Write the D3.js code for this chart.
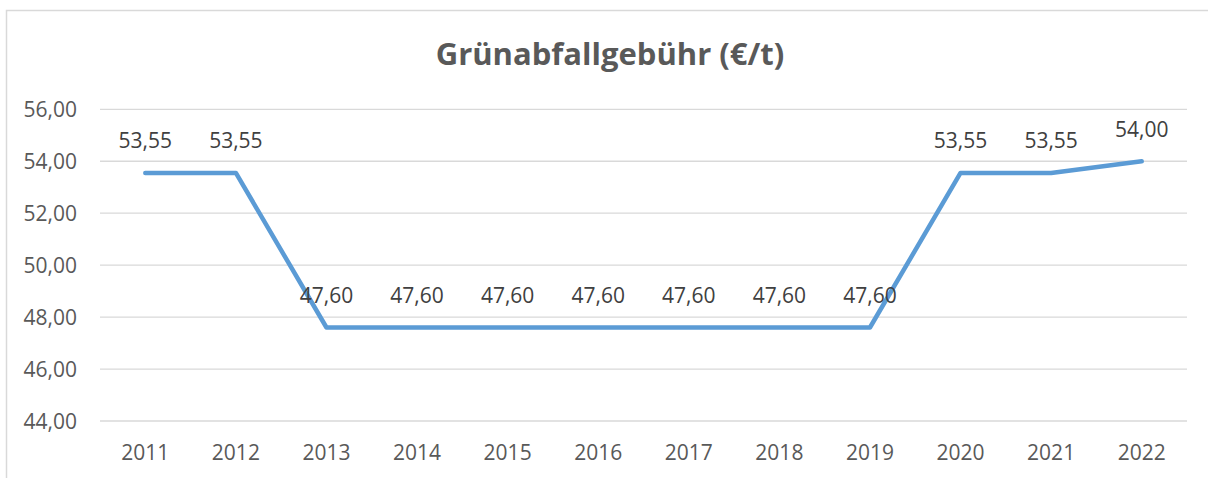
<!DOCTYPE html>
<html>
<head>
<meta charset="utf-8">
<script src="https://cdn.jsdelivr.net/npm/d3@7"></script>
<style>
  body { margin: 0; background: #fff; }
  svg { display: block; font-family: "Open Sans", sans-serif; }
</style>
</head>
<body>
<svg id="chart"></svg>
<script>
// data
const years = ["2011", "2012", "2013", "2014", "2015", "2016", "2017", "2018", "2019", "2020", "2021", "2022"];
const fees = [53.55, 53.55, 47.60, 47.60, 47.60, 47.60, 47.60, 47.60, 47.60, 53.55, 53.55, 54.00];
const yTicks = [44, 46, 48, 50, 52, 54, 56];
const title = "Grünabfallgebühr (€/t)";

const W = 1208, H = 478;
const svg = d3.select("#chart").attr("width", W).attr("height", H);

// chart frame (runs off the right/bottom edge in the original)
svg.append("rect")
  .attr("x", 6.5).attr("y", 10.5)
  .attr("width", W + 10).attr("height", H + 10)
  .attr("fill", "#fff")
  .attr("stroke", "#d9d9d9")
  .attr("stroke-width", 1.5);

const plot = { left: 100, right: 1187, top: 109.3, bottom: 421 };

const x = d3.scaleBand()
  .domain(years)
  .range([plot.left, plot.right]);

const y = d3.scaleLinear()
  .domain([44, 56])
  .range([plot.bottom, plot.top]);

const fmt = v => d3.format(".2f")(v).replace(".", ",");

// gridlines
svg.append("g")
  .selectAll("line")
  .data(yTicks)
  .enter().append("line")
  .attr("x1", plot.left).attr("x2", plot.right)
  .attr("y1", d => y(d)).attr("y2", d => y(d))
  .attr("stroke", "#d9d9d9")
  .attr("stroke-width", 1.3);

// y axis labels
const yAxis = svg.append("g")
  .attr("transform", "translate(" + (plot.left - 23) + ",0)")
  .call(d3.axisLeft(y).tickValues(yTicks).tickFormat(fmt).tickSize(0).tickPadding(0));
yAxis.select(".domain").remove();
yAxis.selectAll("text")
  .attr("font-family", "Open Sans")
  .attr("font-size", 21)
  .attr("fill", "#595959")
  .attr("dy", "0.35em");

// x axis labels
const xAxis = svg.append("g")
  .attr("transform", "translate(0," + plot.bottom + ")")
  .call(d3.axisBottom(x).tickSize(0).tickPadding(0));
xAxis.select(".domain").remove();
xAxis.selectAll("text")
  .attr("font-family", "Open Sans")
  .attr("font-size", 21)
  .attr("fill", "#595959")
  .attr("y", 39)
  .attr("dy", 0);

// the line
const line = d3.line()
  .x((d, i) => x(years[i]) + x.bandwidth() / 2)
  .y(d => y(d));

svg.append("path")
  .datum(fees)
  .attr("d", line)
  .attr("fill", "none")
  .attr("stroke", "#5b9bd5")
  .attr("stroke-width", 4.5)
  .attr("stroke-linejoin", "round")
  .attr("stroke-linecap", "round");

// data labels
svg.append("g")
  .selectAll("text")
  .data(fees)
  .enter().append("text")
  .attr("x", (d, i) => x(years[i]) + x.bandwidth() / 2)
  .attr("y", d => y(d) - 24.5)
  .attr("text-anchor", "middle")
  .attr("font-size", 21)
  .attr("fill", "#404040")
  .text(fmt);

// title
svg.append("text")
  .attr("x", 610)
  .attr("y", 65)
  .attr("text-anchor", "middle")
  .attr("font-size", 31)
  .attr("font-weight", "bold")
  .attr("fill", "#595959")
  .text(title);
</script>
</body>
</html>
